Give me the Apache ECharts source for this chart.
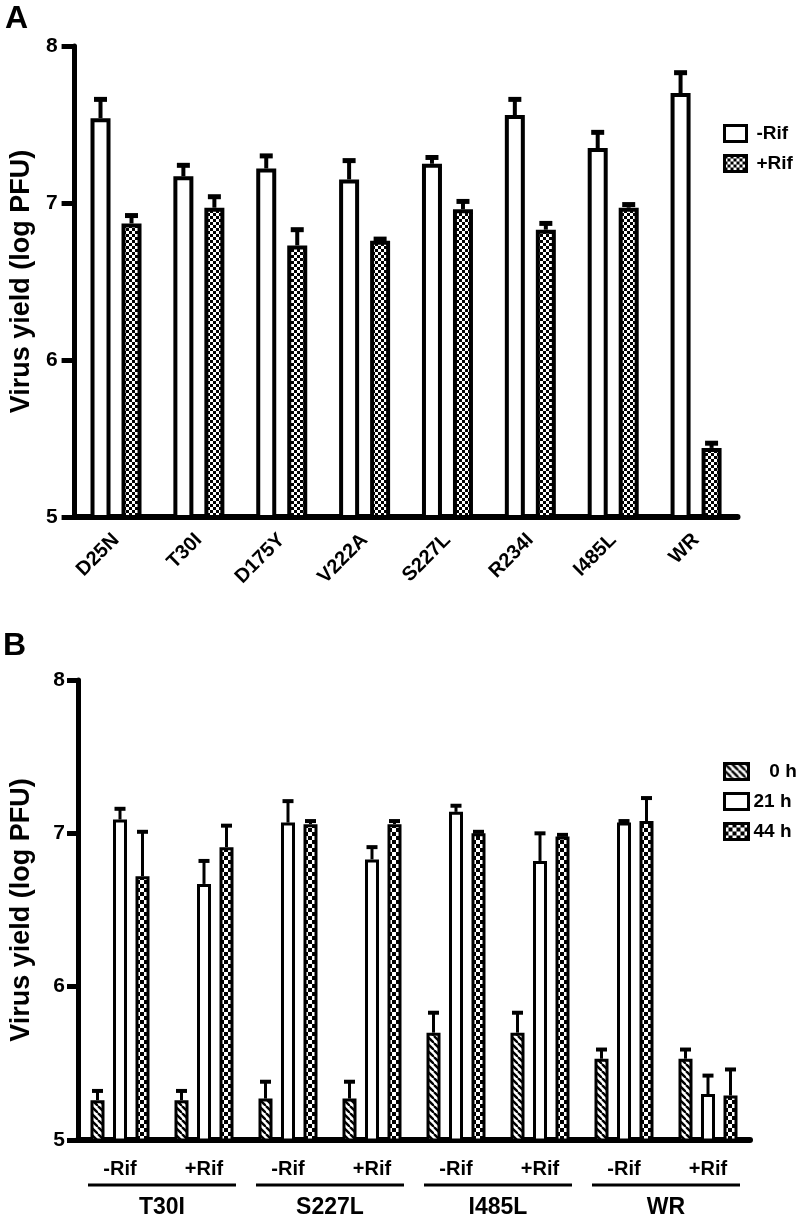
<!DOCTYPE html>
<html><head><meta charset="utf-8">
<script src="https://cdn.jsdelivr.net/npm/echarts@6/dist/echarts.min.js"></script>
<style>html,body{margin:0;padding:0;background:#fff}#c{width:800px;height:1224px}</style>
</head><body><div id="c"></div>
<script>
// ---------- Panel A data ----------
const catsA = ['D25N', 'T30I', 'D175Y', 'V222A', 'S227L', 'R234I', 'I485L', 'WR'];
const minusRifA = [7.54, 7.17, 7.22, 7.15, 7.25, 7.56, 7.35, 7.70];
const minusRifErrA = [0.12, 0.07, 0.08, 0.12, 0.04, 0.10, 0.10, 0.13];
const plusRifA = [6.87, 6.97, 6.73, 6.76, 6.96, 6.83, 6.97, 5.44];
const plusRifErrA = [0.05, 0.07, 0.10, 0.01, 0.05, 0.04, 0.02, 0.03];

// ---------- Panel B data ----------
const catsB = ['-Rif', '+Rif', '-Rif', '+Rif', '-Rif', '+Rif', '-Rif', '+Rif'];
const strainsB = ['T30I', 'S227L', 'I485L', 'WR'];
const h0 = [5.26, 5.26, 5.27, 5.27, 5.70, 5.70, 5.53, 5.53];
const h0Err = [0.06, 0.06, 0.11, 0.11, 0.13, 0.13, 0.06, 0.06];
const h21 = [7.09, 6.67, 7.07, 6.83, 7.14, 6.82, 7.07, 5.30];
const h21Err = [0.07, 0.15, 0.14, 0.08, 0.04, 0.18, 0.01, 0.12];
const h44 = [6.72, 6.91, 7.06, 7.06, 7.00, 6.98, 7.08, 5.29];
const h44Err = [0.29, 0.14, 0.02, 0.02, 0.01, 0.01, 0.15, 0.17];

const yName = 'Virus yield (log PFU)';
const FONT = "'Liberation Sans', Arial, Helvetica, sans-serif";

// ---------- patterns ----------
function checker(s) {
  const c = document.createElement('canvas'); c.width = c.height = 2 * s;
  const g = c.getContext('2d');
  g.fillStyle = '#fff'; g.fillRect(0, 0, 2 * s, 2 * s);
  g.fillStyle = '#000'; g.fillRect(0, 0, s, s); g.fillRect(s, s, s, s);
  return { image: c, repeat: 'repeat' };
}
function hatch(s, w) {
  const c = document.createElement('canvas'); c.width = c.height = s;
  const g = c.getContext('2d');
  g.fillStyle = '#fff'; g.fillRect(0, 0, s, s);
  g.strokeStyle = '#000'; g.lineWidth = w;
  for (let k = -1; k <= 1; k++) { g.beginPath(); g.moveTo(k * s, 0); g.lineTo(k * s + s, s); g.stroke(); }
  return { image: c, repeat: 'repeat' };
}

function errRender(offset, capW, lw) {
  return function (params, api) {
    const cat = api.value(0), v = api.value(1), e = api.value(2);
    const base = api.coord([cat, v]);
    const top = api.coord([cat, v + e]);
    const x = base[0] + offset;
    return {
      type: 'group', children: [
        { type: 'line', shape: { x1: x, y1: base[1], x2: x, y2: top[1] }, style: { stroke: '#000', lineWidth: lw } },
        { type: 'line', shape: { x1: x - capW / 2, y1: top[1], x2: x + capW / 2, y2: top[1] }, style: { stroke: '#000', lineWidth: lw + 1 } }
      ]
    };
  };
}
function errData(vals, errs) { return vals.map((v, i) => [i, v, errs[i]]); }

// bar geometry (style)
const bwA = 20, gapA = 11, bwB = 14, gapB = 8.5;
const offA = (bwA + gapA) / 2;
const offB = bwB + gapB;

const axisText = { fontFamily: FONT, fontWeight: 'bold', color: '#000' };

const chart = echarts.init(document.getElementById('c'), null, { renderer: 'canvas' });
chart.setOption({
  animation: false,
  backgroundColor: '#fff',
  title: [
    { text: 'A', left: 5, top: 3, padding: 0, textStyle: { fontFamily: FONT, fontSize: 32, fontWeight: 'bold', color: '#000' } },
    { text: 'B', left: 3, top: 630, padding: 0, textStyle: { fontFamily: FONT, fontSize: 32, fontWeight: 'bold', color: '#000' } }
  ],
  legend: [
    {
      data: ['-Rif', '+Rif'], orient: 'vertical', left: 723, top: 124, padding: 0,
      itemWidth: 22, itemHeight: 16, itemGap: 11, icon: 'rect',
      itemStyle: { borderColor: '#000', borderWidth: 3 },
      textStyle: { fontFamily: FONT, fontSize: 19, fontWeight: 'bold', color: '#000', padding: [0, 0, 0, 5] }
    },
    {
      data: ['0 h', '21 h', '44 h'], orient: 'vertical', left: 723, top: 762, padding: 0,
      itemWidth: 24, itemHeight: 16, itemGap: 11, icon: 'rect',
      itemStyle: { borderColor: '#000', borderWidth: 3 },
      formatter: n => n === '0 h' ? '\u2007 0 h' : n,
      textStyle: { fontFamily: FONT, fontSize: 19, fontWeight: 'bold', color: '#000' }
    }
  ],
  grid: [
    { left: 70, top: 46, width: 667.5, height: 471 },
    { left: 75, top: 680, width: 675, height: 460 }
  ],
  xAxis: [
    {
      gridIndex: 0, type: 'category', data: catsA,
      axisLine: { lineStyle: { color: '#000', width: 6 } },
      axisTick: { alignWithLabel: true, length: 15, lineStyle: { color: '#000', width: 5 } },
      axisLabel: Object.assign({ rotate: 45, fontSize: 20, margin: 20, interval: 0 }, axisText)
    },
    {
      gridIndex: 1, type: 'category', data: catsB,
      axisLine: { lineStyle: { color: '#000', width: 6 } },
      axisTick: { alignWithLabel: true, length: 10, lineStyle: { color: '#000', width: 4 } },
      axisLabel: Object.assign({ fontSize: 20, margin: 19, interval: 0 }, axisText)
    },
    {
      gridIndex: 1, type: 'category', data: strainsB, position: 'bottom', offset: 48,
      axisLine: { show: false }, axisTick: { show: false },
      axisLabel: Object.assign({ fontSize: 23, margin: 8, interval: 0 }, axisText)
    }
  ],
  yAxis: [
    {
      gridIndex: 0, type: 'value', min: 5, max: 8, interval: 1,
      name: yName, nameLocation: 'middle', nameGap: 39,
      nameTextStyle: { fontFamily: FONT, fontWeight: 'bold', fontSize: 27, color: '#000' },
      axisLine: { show: true, lineStyle: { color: '#000', width: 5 } },
      axisTick: { show: true, length: 13, lineStyle: { color: '#000', width: 5 } },
      axisLabel: Object.assign({ fontSize: 21, margin: 17 }, axisText),
      splitLine: { show: false }
    },
    {
      gridIndex: 1, type: 'value', min: 5, max: 8, interval: 1,
      name: yName, nameLocation: 'middle', nameGap: 43,
      nameTextStyle: { fontFamily: FONT, fontWeight: 'bold', fontSize: 27, color: '#000' },
      axisLine: { show: true, lineStyle: { color: '#000', width: 5 } },
      axisTick: { show: true, length: 11, lineStyle: { color: '#000', width: 5 } },
      axisLabel: Object.assign({ fontSize: 21, margin: 13 }, axisText),
      splitLine: { show: false }
    }
  ],
  series: [
    {
      name: '-Rif', type: 'bar', xAxisIndex: 0, yAxisIndex: 0, data: minusRifA,
      barWidth: bwA, barGap: (gapA / bwA * 100) + '%',
      itemStyle: { color: '#fff', borderColor: '#000', borderWidth: 4 }
    },
    {
      name: '+Rif', type: 'bar', xAxisIndex: 0, yAxisIndex: 0, data: plusRifA,
      barWidth: bwA, barGap: (gapA / bwA * 100) + '%',
      itemStyle: { color: checker(3), borderColor: '#000', borderWidth: 4 }
    },
    { type: 'custom', xAxisIndex: 0, yAxisIndex: 0, z: 5, renderItem: errRender(-offA, 13, 4), data: errData(minusRifA, minusRifErrA), encode: { x: 0, y: 1 } },
    { type: 'custom', xAxisIndex: 0, yAxisIndex: 0, z: 5, renderItem: errRender(offA, 13, 4), data: errData(plusRifA, plusRifErrA), encode: { x: 0, y: 1 } },

    {
      name: '0 h', type: 'bar', xAxisIndex: 1, yAxisIndex: 1, data: h0,
      barWidth: bwB, barGap: (gapB / bwB * 100) + '%',
      itemStyle: { color: hatch(7, 2.4), borderColor: '#000', borderWidth: 3 }
    },
    {
      name: '21 h', type: 'bar', xAxisIndex: 1, yAxisIndex: 1, data: h21,
      barWidth: bwB, barGap: (gapB / bwB * 100) + '%',
      itemStyle: { color: '#fff', borderColor: '#000', borderWidth: 3 }
    },
    {
      name: '44 h', type: 'bar', xAxisIndex: 1, yAxisIndex: 1, data: h44,
      barWidth: bwB, barGap: (gapB / bwB * 100) + '%',
      itemStyle: { color: checker(4), borderColor: '#000', borderWidth: 3 }
    },
    { type: 'custom', xAxisIndex: 1, yAxisIndex: 1, z: 5, renderItem: errRender(-offB, 11, 3), data: errData(h0, h0Err), encode: { x: 0, y: 1 } },
    { type: 'custom', xAxisIndex: 1, yAxisIndex: 1, z: 5, renderItem: errRender(0, 11, 3), data: errData(h21, h21Err), encode: { x: 0, y: 1 } },
    { type: 'custom', xAxisIndex: 1, yAxisIndex: 1, z: 5, renderItem: errRender(offB, 11, 3), data: errData(h44, h44Err), encode: { x: 0, y: 1 } },
    {
      type: 'custom', xAxisIndex: 2, yAxisIndex: 1, clip: false, silent: true,
      data: strainsB.map((s, i) => [i, 5]), encode: { x: 0, y: 1 },
      renderItem: function (params, api) {
        const p = api.coord([api.value(0), api.value(1)]);
        const band = api.size([1, 0])[0];
        const y = p[1] + 45;
        return { type: 'line', shape: { x1: p[0] - band / 2 + 10, y1: y, x2: p[0] + band / 2 - 10, y2: y }, style: { stroke: '#000', lineWidth: 3 } };
      }
    }
  ]
});
</script>
</body></html>
